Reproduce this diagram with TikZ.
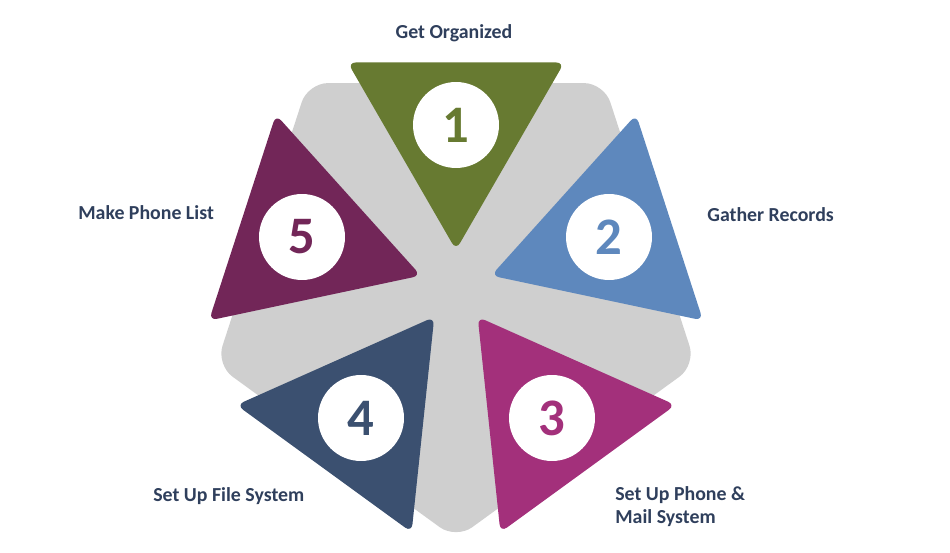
\documentclass[tikz,border=0pt]{standalone}
\usepackage{fontspec}
\setmainfont{Carlito}
\usepackage{tikz}
\usetikzlibrary{positioning}
\definecolor{olivegreen}{HTML}{677A31}
\definecolor{steelblue}{HTML}{5E88BD}
\definecolor{orchid}{HTML}{A3307B}
\definecolor{navyblue}{HTML}{3B5070}
\definecolor{plum}{HTML}{722658}
\definecolor{lightgrey}{HTML}{CFCFCF}
\definecolor{textblue}{HTML}{2F3F5C}

\begin{document}
\begin{tikzpicture}[x=0.02cm, y=-0.02cm,
	stepshape/.style={rounded corners=0.16cm},
	numcircle/.style={circle, fill=white, minimum size=1.72cm, inner sep=0pt, font=\fontsize{30}{30}\selectfont\bfseries},
	steptext/.style={text=textblue, inner sep=0pt, font=\fontsize{11.3}{13}\selectfont\bfseries}]
	% Background pentagon
	\useasboundingbox (0,0) rectangle (950,553);
	\fill [lightgrey, rounded corners=0.4cm] (604.1,83.1) -- (695.7,364.9) -- (456,539) -- (216.3,364.9) -- (307.9,83.1) -- cycle;
	
	% Draw triangles
	\fill [stepshape, olivegreen] (347.7,62.5) -- (564.3,62.5) -- (456,250) -- cycle;
	\fill [stepshape, steelblue] (636.1,114.6) -- (703.0,320.5) -- (491.2,275.6) -- cycle;
	\fill [stepshape, orchid] (477.7,316.9) -- (675.5,405.0) -- (500.4,532.3) -- cycle;
	\fill [stepshape, navyblue] (434.3,316.9) -- (411.6,532.3) -- (236.5,405.0) -- cycle;
	\fill [stepshape, plum] (275.9,114.6) -- (420.8,275.6) -- (209.0,320.5) -- cycle;
	
	% Place nodes
	\node [numcircle, text=olivegreen] (one) at (456,125) {1};
	\node [numcircle, text=steelblue] (two) at (609,237) {2};
	\node [numcircle, text=orchid] (three) at (552,418) {3};
	\node [numcircle, text=navyblue] (four) at (361,418) {4};
	\node [numcircle, text=plum] (five) at (302,237) {5};
	
	% Place labels
	\node [steptext] (organized) at (454,33) {Get Organized};
	\node [steptext, anchor=west] (records) at (707,215) {Gather Records};
	\node [steptext, anchor=west, align=left] (phonemail) at (615,507) {Set Up Phone \&\\Mail System};
	\node [steptext, anchor=west] (filesystem) at (153,496) {Set Up File System};
	\node [steptext, anchor=west] (phonelist) at (78,213) {Make Phone List};
\end{tikzpicture}
\end{document}
